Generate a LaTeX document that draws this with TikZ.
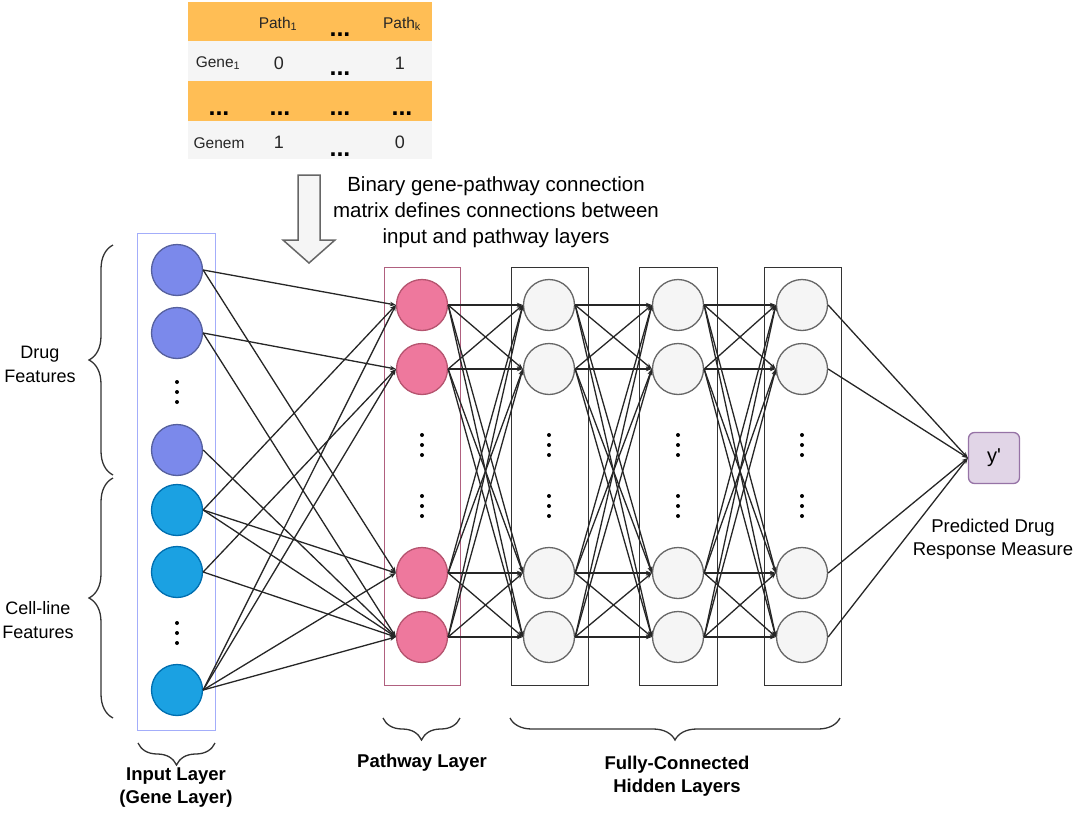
\documentclass[tikz,border=0pt]{standalone}
\usepackage{fontspec}
\setmainfont{Liberation Sans}
\usepackage{tikz}
\usetikzlibrary{arrows.meta,decorations.pathreplacing}
\definecolor{drugfill}{HTML}{7B89EB}
\definecolor{drugedge}{HTML}{56609E}
\definecolor{cellfill}{HTML}{1BA1E2}
\definecolor{celledge}{HTML}{006EAF}
\definecolor{pathfill}{HTML}{EE789D}
\definecolor{pathedge}{HTML}{B5546F}
\definecolor{hidfill}{HTML}{F5F5F5}
\definecolor{hidedge}{HTML}{666666}
\definecolor{outfill}{HTML}{E1D5E7}
\definecolor{outedge}{HTML}{9673A6}
\definecolor{inbox}{HTML}{A3ADFA}
\definecolor{pathbox}{HTML}{B0607F}
\definecolor{taborange}{HTML}{FFBE55}
\definecolor{tabgray}{HTML}{F5F5F5}
\newcommand{\fsz}[2]{\fontsize{#1}{#2}\selectfont}

\begin{document}
\begin{tikzpicture}[x=1pt,y=-1pt,
    neuron/.style={circle,minimum size=51pt,inner sep=0pt,line width=1.3pt},
    drug/.style={neuron,fill=drugfill,draw=drugedge},
    cell/.style={neuron,fill=cellfill,draw=celledge},
    pway/.style={neuron,fill=pathfill,draw=pathedge},
    hid/.style={neuron,fill=hidfill,draw=hidedge},
    link/.style={line width=1.3pt,draw=black!85,-{Stealth[length=6pt,width=4.5pt]}},
    bracedeco/.style={decorate,decoration={brace,amplitude=#1},line width=1.3pt,draw=black!80},
    lbl/.style={font=\fsz{18}{24},align=center,inner sep=0pt},
    blbl/.style={font=\fsz{18.5}{23}\bfseries,align=center,inner sep=0pt},
    tab/.style={font=\fsz{15.5}{18},anchor=base,inner sep=0pt,text=black!85},
    num/.style={font=\fsz{18}{20},anchor=base,inner sep=0pt,text=black!85},
    tdots/.style={font=\fsz{25}{25}\bfseries,anchor=base,inner sep=0pt}]
  \useasboundingbox (0,0) rectangle (1080,814);

  % gene-pathway matrix
  \fill[taborange] (188,2) rectangle (432,41);
  \fill[tabgray] (188,41) rectangle (432,81);
  \fill[taborange] (188,81) rectangle (432,121);
  \fill[tabgray] (188,121) rectangle (432,159);
  \node[tab] (hp1) at (278,28) {Path\textsubscript{1}};
  \node[tdots] (hpd) at (340,36) {...};
  \node[tab] (hpk) at (402,28) {Path\textsubscript{k}};
  \node[tab] (g1) at (218,67) {Gene\textsubscript{1}};
  \node[num] (g1a) at (279,69) {0};
  \node[tdots] (g1d) at (340,75) {...};
  \node[num] (g1k) at (400,69) {1};
  \foreach \x [count=\i] in {219,280,340,402}
    \node[tdots] (rd\i) at (\x,115) {...};
  \node[tab] (gm) at (219,148) {Genem};
  \node[num] (gma) at (279,148) {1};
  \node[tdots] (gmd) at (340,156) {...};
  \node[num] (gmk) at (400,148) {0};

  % hollow arrow and caption
  \draw[fill=hidfill,draw=hidedge,line width=1.5pt] (298,175) -- (320,175) -- (320,240)
    -- (335,240) -- (309,263) -- (283,240) -- (298,240) -- cycle;
  \node[font=\fsz{20.5}{26},align=center] (cap) at (496,212)
    {Binary gene-pathway connection\\matrix defines connections between\\input and pathway layers};

  % layer boxes
  \draw[inbox,line width=0.9pt] (137,233) rectangle (215,730);
  \draw[pathbox,line width=0.9pt] (384,267) rectangle (460,685);
  \foreach \xa/\xb in {511/588,639/717,764/841}
    \draw[black!80,line width=0.9pt] (\xa,267) rectangle (\xb,685);

  % neurons
  \foreach \i/\y in {1/270,2/333,3/450}
    \node[drug] (d\i) at (177,\y) {};
  \foreach \i/\y in {1/510,2/572,3/690}
    \node[cell] (c\i) at (177,\y) {};
  \foreach \i/\y in {1/305,2/369,3/573,4/637}
    \node[pway] (p\i) at (422,\y) {};
  \foreach \l/\x in {1/549,2/678,3/802}
    \foreach \i/\y in {1/305,2/369,3/573,4/637}
      \node[hid] (h\l\i) at (\x,\y) {};
  \node[draw=outedge,fill=outfill,line width=1.3pt,rounded corners=6pt,
    minimum size=51pt,font=\fsz{20}{24}] (yout) at (994,458) {y\textquotesingle};

  % vertical dots
  \foreach \x/\y in {177/392,177/633,422/445,422/506,549/445,549/506,678/445,678/506,802/445,802/506}
    \foreach \k in {-10,0,10}
      \fill (\x,\y+\k) circle (2pt);

  % sparse input -> pathway links
  \foreach \a/\b in {d1/p1,d1/p3,d2/p2,d2/p4,d3/p4,c1/p1,c1/p3,c1/p4,c2/p2,c2/p4,c3/p1,c3/p2,c3/p3,c3/p4}
    \draw[link] (\a.east) -- (\b.west);
  % dense links
  \foreach \s in {1,...,4}
    \foreach \t in {1,...,4} {
      \draw[link] (p\s.east) -- (h1\t.west);
      \draw[link] (h1\s.east) -- (h2\t.west);
      \draw[link] (h2\s.east) -- (h3\t.west);
    }
  \foreach \s in {1,...,4}
    \draw[link] (h3\s.east) -- (yout.west);

  % braces and labels
  \draw[bracedeco=24pt] (113,475) -- (113,245);
  \draw[bracedeco=24pt] (113,718) -- (113,478);
  \node[lbl] (drugl) at (40,364) {Drug\\Features};
  \node[lbl] (celll) at (38,620) {Cell-line\\Features};
  \draw[bracedeco=22pt] (215,743) -- (138,743);
  \draw[bracedeco=22pt] (460,718) -- (383,718);
  \draw[bracedeco=22pt] (840,718) -- (510,718);
  \node[blbl] (inl) at (176,788) {Input Layer\\(Gene Layer)};
  \node[blbl] (pwl) at (422,763) {Pathway Layer};
  \node[blbl] (fcl) at (677,776) {Fully-Connected\\Hidden Layers};
  \node[lbl,font=\fsz{18.5}{23}] (predl) at (993,539) {Predicted Drug\\Response Measure};
\end{tikzpicture}
\end{document}
